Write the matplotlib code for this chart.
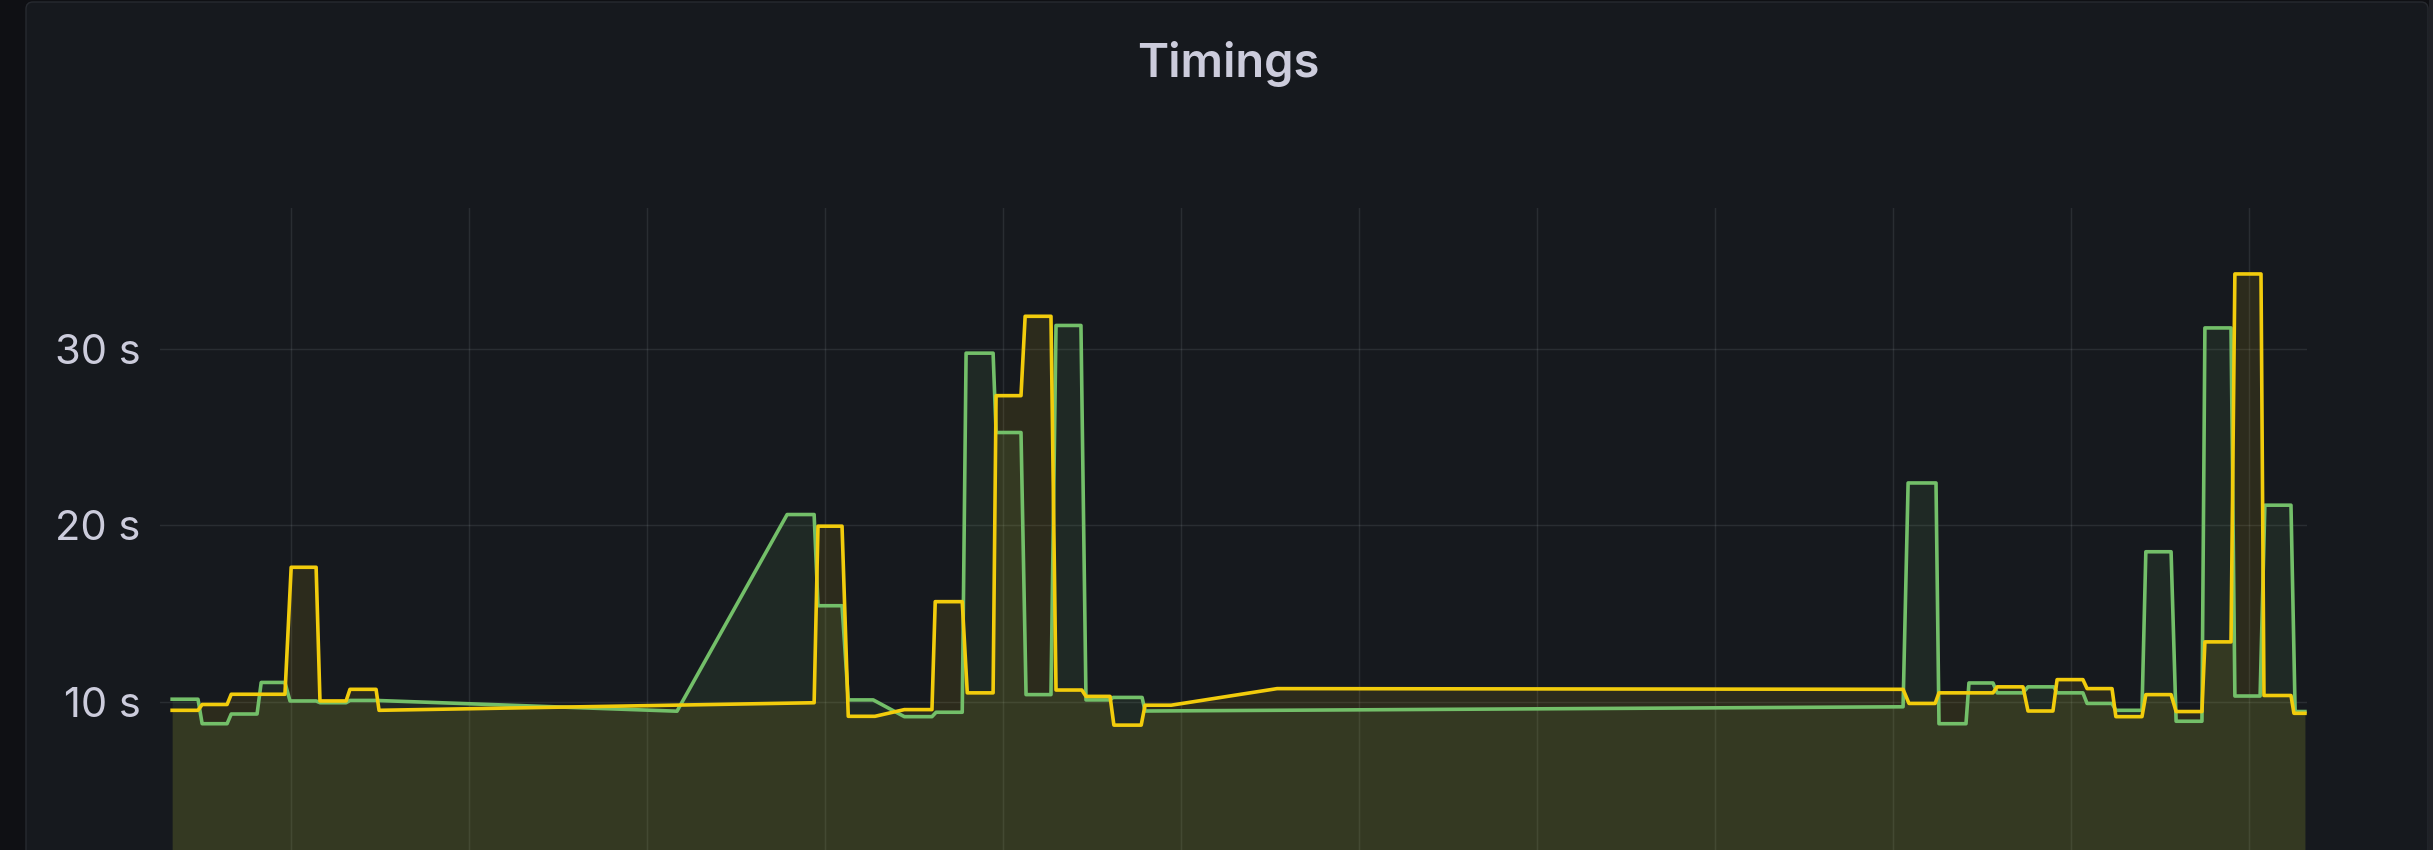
import matplotlib
matplotlib.use("Agg")
import matplotlib.pyplot as plt
from matplotlib.patches import FancyBboxPatch, Rectangle
from matplotlib.transforms import IdentityTransform
from matplotlib.ticker import FixedLocator, FuncFormatter

# ---------------- data (time in minutes, values in seconds) ----------------
title = "Timings"

green_t = [-39.9, -31.2, -29.8, -21.4, -20.0, -11.3, -9.9, -1.9, -0.2, 8.6,
           9.9, 18.7, 20.0, 28.8, 130.2, 167.3, 176.4, 177.7, 185.8, 187.9,
           196.3, 206.8, 216.1, 217.5, 226.3, 227.6, 236.7, 237.7, 246.1, 247.8,
           256.2, 257.9, 266.3, 268.0, 276.1, 277.1, 286.9, 287.9, 543.3, 545.0,
           554.4, 555.4, 564.5, 565.5, 573.6, 575.0, 583.7, 585.4, 594.1, 595.2,
           603.9, 605.3, 613.7, 615.0, 623.8, 625.1, 633.6, 635.3, 644.0, 645.0,
           653.8, 655.1, 663.6, 665.2, 674.0, 675.4, 678.7]
green_v = [10.15, 10.15, 8.76, 8.76, 9.31, 9.31, 11.1, 11.1, 10.05, 10.05,
           9.95, 9.95, 10.08, 10.08, 9.47, 20.62, 20.62, 15.45, 15.45, 10.11,
           10.11, 9.16, 9.16, 9.41, 9.41, 29.77, 29.77, 25.27, 25.27, 10.41,
           10.41, 31.34, 31.34, 10.11, 10.11, 10.25, 10.25, 9.48, 9.72, 22.41,
           22.41, 8.76, 8.76, 11.07, 11.07, 10.51, 10.51, 10.85, 10.85, 10.51,
           10.51, 9.91, 9.91, 9.52, 9.52, 18.51, 18.51, 8.9, 8.9, 31.2,
           31.2, 10.33, 10.33, 21.15, 21.15, 9.45, 9.45]

yellow_t = [-39.9, -31.2, -29.8, -21.4, -20.0, -1.9, 0.2, 8.6, 9.9, 18.7,
            20.0, 28.8, 29.8, 176.4, 177.7, 185.8, 187.9, 196.9, 206.8, 216.1,
            217.2, 226.3, 228.0, 236.7, 237.7, 246.1, 247.5, 256.2, 257.9, 266.6,
            268.0, 276.1, 277.4, 286.6, 287.9, 296.7, 332.4, 543.3, 545.3, 554.1,
            555.4, 573.6, 575.0, 583.7, 585.4, 593.8, 595.2, 603.9, 605.3, 613.7,
            615.0, 623.8, 625.1, 633.6, 635.3, 644.0, 645.0, 653.8, 655.1, 663.9,
            664.9, 674.0, 675.0, 678.7]
yellow_v = [9.52, 9.52, 9.85, 9.85, 10.43, 10.43, 17.63, 17.63, 10.05, 10.05,
            10.71, 10.71, 9.52, 9.95, 19.96, 19.96, 9.18, 9.18, 9.56, 9.56,
            15.68, 15.68, 10.51, 10.51, 27.36, 27.36, 31.86, 31.86, 10.67, 10.67,
            10.31, 10.31, 8.68, 8.68, 9.81, 9.81, 10.75, 10.71, 9.91, 9.91,
            10.51, 10.51, 10.85, 10.85, 9.48, 9.48, 11.26, 11.26, 10.75, 10.75,
            9.16, 9.16, 10.41, 10.41, 9.45, 9.45, 13.40, 13.40, 34.26, 34.26,
            10.36, 10.36, 9.35, 9.35]

y_ticks = [10, 20, 30]
x_grid = list(range(0, 661, 60))

# ---------------- style ----------------
W, H, DPI = 2433, 850, 100
CANVAS = "#0f1014"
PANEL = "#16191e"
TEXT = "#ccccdc"
GREEN = "#73BF69"
YELLOW = "#F2CC0C"

plt.rcParams["font.family"] = ["Inter", "DejaVu Sans"]

fig = plt.figure(figsize=(W / DPI, H / DPI), dpi=DPI, facecolor=CANVAS)

panel = FancyBboxPatch((26, -60), 2402, 908,
                       boxstyle="round,pad=0,rounding_size=7",
                       transform=IdentityTransform(), facecolor=PANEL,
                       edgecolor="#272a30", linewidth=1.0, zorder=0)
fig.add_artist(panel)
fig.add_artist(Rectangle((2429, 0), 4, H, transform=IdentityTransform(),
                         facecolor="#202227", edgecolor="none", zorder=0))

ax = fig.add_axes([160 / W, -0.0332, 2147 / W, 0.7885])
ax.set_facecolor("none")
ax.set_xlim(-44.0, 679.4)
ax.set_ylim(0, 38.0)

for s in ax.spines.values():
    s.set_visible(False)

ax.xaxis.set_major_locator(FixedLocator(x_grid))
ax.yaxis.set_major_locator(FixedLocator(y_ticks))
ax.yaxis.set_major_formatter(FuncFormatter(lambda v, p: f"{v:g} s"))
ax.tick_params(axis="x", length=0, labelbottom=False)
ax.tick_params(axis="y", length=0, pad=14, labelsize=30, labelcolor=TEXT)
ax.grid(True, color="#f0faff", alpha=0.09, linewidth=1.0, zorder=0)
ax.set_axisbelow(True)

ax.fill_between(green_t, green_v, 0, color=GREEN, alpha=0.10, linewidth=0, zorder=1)
ax.plot(green_t, green_v, color=GREEN, linewidth=2.6, zorder=3)
ax.fill_between(yellow_t, yellow_v, 0, color=YELLOW, alpha=0.10, linewidth=0, zorder=2)
ax.plot(yellow_t, yellow_v, color=YELLOW, linewidth=2.6, zorder=4)

fig.text(1228 / W, 1 - 77 / H, title, ha="center", va="baseline",
         fontsize=34, color=TEXT, fontweight="semibold")

fig.savefig("out.png", dpi=DPI, facecolor=fig.get_facecolor())
